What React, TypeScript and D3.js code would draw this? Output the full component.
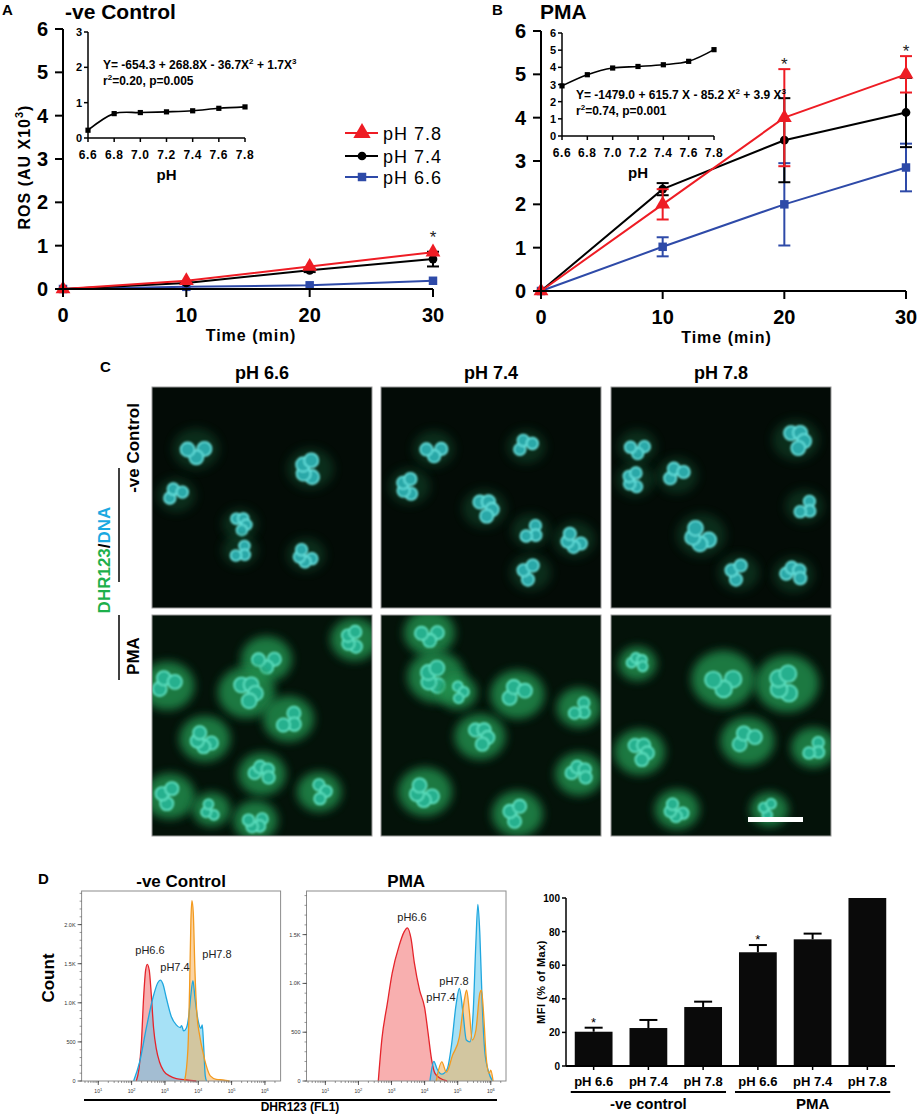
import React from 'react';
import * as d3 from 'd3';

// ---------- A / B time course ----------
const times = [0, 10, 20, 30];
const ctrl78 = [0, 0.19, 0.52, 0.85];
const ctrl78Err = [0, 0, 0, 0];
const ctrl74 = [0, 0.14, 0.43, 0.69];
const ctrl74Err = [0, 0.02, 0.04, 0.17];
const ctrl66 = [0, 0.05, 0.085, 0.19];
const ctrl66Err = [0, 0, 0, 0];
const ctrlStarTimes = [30];

const pma78 = [0, 2.0, 4.0, 5.0];
const pma78Err = [0, 0.35, 1.12, 0.42];
const pma74 = [0, 2.35, 3.48, 4.12];
const pma74Err = [0, 0.14, 0.97, 0.8];
const pma66 = [0, 1.02, 2.0, 2.85];
const pma66Err = [0, 0.22, 0.95, 0.55];
const pmaStarTimes = [20, 30];

const rosTicks = [0, 1, 2, 3, 4, 5, 6];
const timeTicks = [0, 10, 20, 30];

// insets
const insetPh = [6.6, 6.8, 7.0, 7.2, 7.4, 7.6, 7.8];
const insetCtrl = [0.22, 0.69, 0.72, 0.74, 0.77, 0.84, 0.88];
const insetPma = [2.92, 3.57, 3.96, 4.05, 4.15, 4.35, 5.03];
const insetCtrlTicks = [0, 1, 2, 3];
const insetPmaTicks = [0, 1, 2, 3, 4, 5, 6];

const legendLabels = ['pH 7.8', 'pH 7.4', 'pH 6.6'];

// ---------- C microscopy (relative cell centres, radius) ----------
const phColumns = ['pH 6.6', 'pH 7.4', 'pH 7.8'];
const cellsCtrl66 = [[0.2, 0.28, 0.085], [0.72, 0.37, 0.085], [0.11, 0.49, 0.07], [0.4, 0.62, 0.065], [0.4, 0.74, 0.065], [0.7, 0.76, 0.07]];
const cellsCtrl74 = [[0.24, 0.28, 0.075], [0.13, 0.45, 0.075], [0.66, 0.27, 0.07], [0.47, 0.55, 0.08], [0.68, 0.65, 0.07], [0.88, 0.69, 0.075], [0.68, 0.84, 0.075]];
const cellsCtrl78 = [[0.12, 0.27, 0.07], [0.11, 0.42, 0.07], [0.3, 0.4, 0.075], [0.84, 0.24, 0.085], [0.88, 0.54, 0.07], [0.41, 0.67, 0.09], [0.58, 0.84, 0.075], [0.83, 0.85, 0.075]];
const cellsPma66 = [[0.52, 0.2, 0.08], [0.92, 0.11, 0.075], [0.07, 0.32, 0.085], [0.43, 0.35, 0.09], [0.62, 0.47, 0.08], [0.24, 0.56, 0.08], [0.08, 0.82, 0.08], [0.5, 0.72, 0.075], [0.76, 0.8, 0.07], [0.47, 0.93, 0.07], [0.27, 0.88, 0.06]];
const cellsPma74 = [[0.22, 0.08, 0.08], [0.25, 0.28, 0.09], [0.62, 0.36, 0.085], [0.45, 0.55, 0.08], [0.9, 0.42, 0.07], [0.2, 0.8, 0.085], [0.62, 0.9, 0.08], [0.9, 0.72, 0.075], [0.35, 0.35, 0.06]];
const cellsPma78 = [[0.51, 0.29, 0.1], [0.8, 0.31, 0.1], [0.62, 0.57, 0.085], [0.13, 0.62, 0.08], [0.92, 0.6, 0.07], [0.3, 0.88, 0.07], [0.72, 0.88, 0.06], [0.12, 0.22, 0.06]];

// ---------- D flow histograms: [log10 intensity, count] ----------
const h1Ph66 = [[2.14, 0], [2.22, 152], [2.29, 457], [2.36, 1065], [2.42, 1414], [2.47, 1492], [2.53, 1414], [2.59, 1109], [2.66, 674], [2.74, 413], [2.84, 240], [2.96, 130], [3.14, 65], [3.34, 30], [3.64, 13], [3.94, 0]];
const h1Ph74 = [[2.06, 0], [2.24, 240], [2.44, 675], [2.64, 1065], [2.79, 1260], [2.86, 1290], [2.94, 1240], [3.04, 1065], [3.19, 826], [3.34, 718], [3.46, 683], [3.5, 709], [3.56, 640], [3.64, 674], [3.72, 848], [3.78, 1110], [3.84, 1283], [3.9, 1065], [4.0, 761], [4.08, 674], [4.12, 718], [4.16, 457], [4.21, 65], [4.25, 0]];
const h1Ph78 = [[3.59, 0], [3.69, 413], [3.74, 1196], [3.78, 2066], [3.81, 2305], [3.85, 2153], [3.9, 1413], [3.96, 848], [4.04, 587], [4.14, 370], [4.24, 196], [4.36, 65], [4.54, 22], [4.74, 13], [4.94, 0]];
const h2Ph66 = [[2.6, 0], [2.71, 434], [2.87, 787], [3.02, 1105], [3.23, 1387], [3.38, 1528], [3.48, 1570], [3.59, 1458], [3.69, 1210], [3.85, 928], [4.0, 752], [4.1, 505], [4.21, 222], [4.31, 81], [4.47, 28], [4.68, 0]];
const h2Ph74 = [[4.16, 0], [4.28, 200], [4.38, 120], [4.52, 70], [4.68, 120], [4.81, 360], [4.95, 780], [5.05, 950], [5.16, 700], [5.26, 420], [5.37, 400], [5.47, 720], [5.55, 1420], [5.61, 1810], [5.67, 1500], [5.74, 800], [5.82, 300], [5.93, 100], [6.05, 0]];
const h2Ph78 = [[4.35, 0], [4.52, 195], [4.66, 90], [4.84, 260], [5.05, 450], [5.21, 850], [5.27, 930], [5.35, 720], [5.44, 420], [5.55, 520], [5.67, 900], [5.72, 930], [5.79, 650], [5.86, 250], [5.95, 80], [6.0, 110], [6.07, 0]];
const h1CountTicks = [0, 500, 1000, 1500, 2000];
const h2CountTicks = [0, 500, 1000, 1500];
const decades = [1, 2, 3, 4, 5, 6];

// ---------- D MFI bars ----------
const mfiLabels = ['pH 6.6', 'pH 7.4', 'pH 7.8', 'pH 6.6', 'pH 7.4', 'pH 7.8'];
const mfiValues = [20.4, 22.6, 35.1, 67.7, 75.4, 100];
const mfiErr = [2.4, 4.8, 3.2, 4.3, 3.4, 0];
const mfiStars = [0, 3];
const mfiTicks = [0, 20, 40, 60, 80, 100];
const mfiGroups = ['-ve control', 'PMA'];

const SANS = "'Liberation Sans', Arial, sans-serif";
const NARROW = "'Liberation Sans Narrow', 'Arial Narrow', 'Liberation Sans', Arial, sans-serif";
const RED = '#ee1c24';
const BLUE = '#2e4aa8';
const BLACK = '#000';

const symTri = (a: number) => d3.symbol(d3.symbolTriangle, a)();
const symCircle = (a: number) => d3.symbol(d3.symbolCircle, a)();
const symSquare = (a: number) => d3.symbol(d3.symbolSquare, a)();

type Series = { vals: number[]; err: number[]; color: string; sym: string };

function TimeCourse({ x0, x1, y0, y1, series, starTimes }: { x0: number; x1: number; y0: number; y1: number; series: Series[]; starTimes: number[] }) {
  const x = d3.scaleLinear().domain([0, 30]).range([x0, x1]);
  const y = d3.scaleLinear().domain([0, 6]).range([y1, y0]);
  const line = d3.line<number>().x((_, i) => x(times[i])).y(v => y(v));
  return (
    <g>
      {series.map((s, k) => (
        <g key={k}>
          {s.vals.map((v, i) => s.err[i] > 0 ? (
            <g key={i} stroke={s.color} strokeWidth={2}>
              <line x1={x(times[i])} x2={x(times[i])} y1={y(v - s.err[i])} y2={y(v + s.err[i])} />
              <line x1={x(times[i]) - 6} x2={x(times[i]) + 6} y1={y(v - s.err[i])} y2={y(v - s.err[i])} />
              <line x1={x(times[i]) - 6} x2={x(times[i]) + 6} y1={y(v + s.err[i])} y2={y(v + s.err[i])} />
            </g>
          ) : null)}
          <path d={line(s.vals) || ''} fill="none" stroke={s.color} strokeWidth={2} />
          {s.vals.map((v, i) => (
            <path key={i} d={s.sym} fill={s.color} transform={`translate(${x(times[i])},${y(v)})`} />
          ))}
        </g>
      ))}
      {starTimes.map(t => {
        const i = times.indexOf(t);
        const top = Math.min(...series.map(s => Math.min(y(s.vals[i]) - 10, y(s.vals[i] + s.err[i]))));
        return <text key={t} x={x(t)} y={top + 1} textAnchor="middle" fontFamily={SANS} fontSize={17} fill="#222">*</text>;
      })}
      {/* y axis */}
      <line x1={x0} x2={x0} y1={y(0)} y2={y(6)} stroke="#000" strokeWidth={2} />
      {rosTicks.map(t => (
        <g key={t}>
          <line x1={x0 - 8} x2={x0} y1={y(t)} y2={y(t)} stroke="#000" strokeWidth={2} />
          <text x={x0 - 15} y={y(t) + 7} textAnchor="end" fontFamily={NARROW} fontWeight="bold" fontSize={20}>{t}</text>
        </g>
      ))}
      {/* x axis */}
      <line x1={x0} x2={x1} y1={y(0)} y2={y(0)} stroke="#000" strokeWidth={2} />
      {timeTicks.map(t => (
        <g key={t}>
          <line x1={x(t)} x2={x(t)} y1={y(0)} y2={y(0) + 8} stroke="#000" strokeWidth={2} />
          <text x={x(t)} y={y(0) + 33} textAnchor="middle" fontFamily={NARROW} fontWeight="bold" fontSize={20}>{t}</text>
        </g>
      ))}
      <text x={(x0 + x1) / 2 + 3} y={y(0) + 52} textAnchor="middle" fontFamily={NARROW} fontWeight="bold" fontSize={16} letterSpacing={1}>Time (min)</text>
    </g>
  );
}

function Inset({ x0, x1, y0, y1, vals, ticks, eq1, eq2, eqX, eqY }: any) {
  const x = d3.scaleLinear().domain([6.6, 7.8]).range([x0, x1]);
  const y = d3.scaleLinear().domain([0, ticks[ticks.length - 1]]).range([y1, y0]);
  const line = d3.line<number>().x((_, i) => x(insetPh[i])).y(v => y(v)).curve(d3.curveCatmullRom.alpha(0.5));
  return (
    <g>
      <line x1={x0} x2={x0} y1={y1} y2={y0} stroke="#000" strokeWidth={1.5} />
      <line x1={x0} x2={x1} y1={y1} y2={y1} stroke="#000" strokeWidth={1.5} />
      {ticks.map((t: number) => (
        <g key={t}>
          <line x1={x0 - 4} x2={x0} y1={y(t)} y2={y(t)} stroke="#000" strokeWidth={1.5} />
          <text x={x0 - 6} y={y(t) + 4} textAnchor="end" fontFamily={NARROW} fontWeight="bold" fontSize={11}>{t}</text>
        </g>
      ))}
      {insetPh.map(p => (
        <g key={p}>
          <line x1={x(p)} x2={x(p)} y1={y1} y2={y1 + 4} stroke="#000" strokeWidth={1.5} />
          <text x={x(p)} y={y1 + 21} textAnchor="middle" fontFamily={NARROW} fontWeight="bold" fontSize={12} letterSpacing={0.6}>{p.toFixed(1)}</text>
        </g>
      ))}
      <text x={(x0 + x1) / 2} y={y1 + 42} textAnchor="middle" fontFamily={SANS} fontWeight="bold" fontSize={15}>pH</text>
      <path d={line(vals) || ''} fill="none" stroke="#000" strokeWidth={1.6} />
      {vals.map((v: number, i: number) => (
        <rect key={i} x={x(insetPh[i]) - 2.6} y={y(v) - 2.6} width={5.2} height={5.2} fill="#000" />
      ))}
      <text x={eqX} y={eqY} fontFamily={NARROW} fontWeight="bold" fontSize={12}>{eq1}</text>
      <text x={eqX} y={eqY + 16} fontFamily={NARROW} fontWeight="bold" fontSize={12}>{eq2}</text>
    </g>
  );
}

function Cell({ cx, cy, r, pma, k }: { cx: number; cy: number; r: number; pma: boolean; k: number }) {
  const rot = k * 1.37;
  const n = 3 + (k % 2);
  const lobes = d3.range(n).map(j => {
    const a = rot + j * (4.6 / n);
    return [cx + Math.cos(a) * r * 0.45, cy + Math.sin(a) * r * 0.45];
  });
  return (
    <g>
      <ellipse cx={cx} cy={cy} rx={r * (pma ? 1.45 : 1.25)} ry={r * (pma ? 1.3 : 1.1)} fill={pma ? '#21934f' : '#15603a'} opacity={pma ? 0.8 : 0.4} filter="url(#blurBig)" />
      <g filter="url(#blurSmall)">
        {lobes.map((l, j) => (
          <circle key={j} cx={l[0]} cy={l[1]} r={r * 0.38} fill={pma ? '#27b08e' : '#2aa8a8'} stroke={pma ? '#62e6c6' : '#6ae6e2'} strokeWidth={1.6} />
        ))}
      </g>
    </g>
  );
}

function Micro({ x, y, w, h, cells, pma }: { x: number; y: number; w: number; h: number; cells: number[][]; pma: boolean }) {
  const sx = d3.scaleLinear().domain([0, 1]).range([x, x + w]);
  const sy = d3.scaleLinear().domain([0, 1]).range([y, y + h]);
  const id = `clip${Math.round(x)}_${Math.round(y)}`;
  return (
    <g>
      <clipPath id={id}><rect x={x} y={y} width={w} height={h} /></clipPath>
      <rect x={x} y={y} width={w} height={h} fill={pma ? '#041209' : '#030b06'} />
      <g clipPath={`url(#${id})`}>
        {cells.map((c, k) => <Cell key={k} k={k} cx={sx(c[0])} cy={sy(c[1])} r={c[2] * w} pma={pma} />)}
      </g>
      <rect x={x} y={y} width={w} height={h} fill="none" stroke="#9a9a9a" strokeWidth={1} />
    </g>
  );
}

function Histogram({ bx0, bx1, by0, by1, logMin, logMax, yMax, curves, countTicks, labels, title }: any) {
  const x = d3.scaleLog().domain([Math.pow(10, logMin), Math.pow(10, logMax)]).range([bx0, bx1]);
  const y = d3.scaleLinear().domain([0, yMax]).range([by1, by0]);
  const area = d3.area<number[]>().x(d => x(Math.pow(10, d[0]))).y0(y(0)).y1(d => y(d[1])).curve(d3.curveMonotoneX);
  const line = d3.line<number[]>().x(d => x(Math.pow(10, d[0]))).y(d => y(d[1])).curve(d3.curveMonotoneX);
  const minorX: number[] = [];
  for (let e = 0; e <= 6; e++) for (let m = 1; m <= 9; m++) {
    const v = m * Math.pow(10, e);
    if (Math.log10(v) > logMin && Math.log10(v) < logMax) minorX.push(v);
  }
  const minorY = d3.range(0, yMax, 100);
  const fmt = (t: number) => t === 0 ? '0' : t < 1000 ? String(t) : `${(t / 1000).toFixed(1)}K`;
  return (
    <g>
      <text x={(bx0 + bx1) / 2} y={by0 - 4} textAnchor="middle" fontFamily={SANS} fontWeight="bold" fontSize={17}>{title}</text>
      {curves.map((c: any, k: number) => (
        <path key={k} d={area(c.pts) || ''} fill={c.fill} fillOpacity={0.55} />
      ))}
      {curves.map((c: any, k: number) => (
        <path key={k} d={line(c.pts) || ''} fill="none" stroke={c.stroke} strokeWidth={1.3} />
      ))}
      <rect x={bx0} y={by0} width={bx1 - bx0} height={by1 - by0} fill="none" stroke="#8c8c8c" strokeWidth={1} />
      {minorY.map(t => <line key={t} x1={bx0 - 2} x2={bx0} y1={y(t)} y2={y(t)} stroke="#555" strokeWidth={0.6} />)}
      {countTicks.map((t: number) => (
        <g key={t}>
          <line x1={bx0 - 4} x2={bx0} y1={y(t)} y2={y(t)} stroke="#333" strokeWidth={0.8} />
          <text x={bx0 - 6} y={y(t) + 2} textAnchor="end" fontFamily={SANS} fontSize={5.5} fill="#333">{fmt(t)}</text>
        </g>
      ))}
      {minorX.map(v => <line key={v} x1={x(v)} x2={x(v)} y1={by1} y2={by1 + 2} stroke="#555" strokeWidth={0.6} />)}
      {decades.map(d => (
        <g key={d}>
          <line x1={x(Math.pow(10, d))} x2={x(Math.pow(10, d))} y1={by1} y2={by1 + 4} stroke="#333" strokeWidth={0.8} />
          <text x={x(Math.pow(10, d))} y={by1 + 12} textAnchor="middle" fontFamily={SANS} fontSize={5} fill="#333">10<tspan dy={-2} fontSize={4}>{d}</tspan></text>
        </g>
      ))}
      {labels.map((l: any, k: number) => (
        <text key={k} x={l[1]} y={l[2]} textAnchor="middle" fontFamily={SANS} fontSize={11} fill="#222">{l[0]}</text>
      ))}
    </g>
  );
}

function MfiBars() {
  const x = d3.scaleBand<number>().domain(d3.range(mfiValues.length)).range([566, 895]).paddingInner(0.31).paddingOuter(0.16);
  const y = d3.scaleLinear().domain([0, 100]).range([1066, 898]);
  const bw = x.bandwidth();
  return (
    <g>
      {mfiValues.map((v, i) => (
        <g key={i}>
          <rect x={x(i)} y={y(v)} width={bw} height={y(0) - y(v)} fill="#0a0a0a" />
          {mfiErr[i] > 0 && (
            <g stroke="#000" strokeWidth={2}>
              <line x1={x(i)! + bw / 2} x2={x(i)! + bw / 2} y1={y(v)} y2={y(v + mfiErr[i])} />
              <line x1={x(i)! + bw / 2 - 9} x2={x(i)! + bw / 2 + 9} y1={y(v + mfiErr[i])} y2={y(v + mfiErr[i])} />
            </g>
          )}
          <line x1={x(i)! + bw / 2} x2={x(i)! + bw / 2} y1={y(0)} y2={y(0) + 4} stroke="#000" strokeWidth={1.5} />
          <text x={x(i)! + bw / 2} y={y(0) + 20} textAnchor="middle" fontFamily={NARROW} fontWeight="bold" fontSize={13}>{mfiLabels[i]}</text>
        </g>
      ))}
      {mfiStars.map(i => (
        <text key={i} x={x(i)! + bw / 2} y={y(mfiValues[i] + mfiErr[i]) - 1} textAnchor="middle" fontFamily={SANS} fontSize={13}>*</text>
      ))}
      <line x1={566} x2={566} y1={y(0)} y2={y(100)} stroke="#000" strokeWidth={1.5} />
      <line x1={566} x2={895} y1={y(0)} y2={y(0)} stroke="#000" strokeWidth={2} />
      {mfiTicks.map(t => (
        <g key={t}>
          <line x1={562} x2={566} y1={y(t)} y2={y(t)} stroke="#000" strokeWidth={1.5} />
          <text x={560} y={y(t) + 4} textAnchor="end" fontFamily={NARROW} fontWeight="bold" fontSize={10}>{t}</text>
        </g>
      ))}
      <text transform={`translate(545,${(y(0) + y(100)) / 2}) rotate(-90)`} textAnchor="middle" fontFamily={NARROW} fontWeight="bold" fontSize={11} letterSpacing={0.5}>MFI (% of Max)</text>
      {mfiGroups.map((g, k) => {
        const a = x(k * 3)! - 4;
        const b = x(k * 3 + 2)! + bw + 4;
        return (
          <g key={g}>
            <line x1={a} x2={b} y1={1092} y2={1092} stroke="#000" strokeWidth={2} />
            <text x={(a + b) / 2} y={1109} textAnchor="middle" fontFamily={NARROW} fontWeight="bold" fontSize={15}>{g}</text>
          </g>
        );
      })}
    </g>
  );
}

export default function App() {
  const ctrlSeries: Series[] = [
    { vals: ctrl66, err: ctrl66Err, color: BLUE, sym: symSquare(72) || '' },
    { vals: ctrl74, err: ctrl74Err, color: BLACK, sym: symCircle(60) || '' },
    { vals: ctrl78, err: ctrl78Err, color: RED, sym: symTri(95) || '' },
  ];
  const pmaSeries: Series[] = [
    { vals: pma66, err: pma66Err, color: BLUE, sym: symSquare(72) || '' },
    { vals: pma74, err: pma74Err, color: BLACK, sym: symCircle(60) || '' },
    { vals: pma78, err: pma78Err, color: RED, sym: symTri(95) || '' },
  ];
  const legendSyms = [symTri(130), symCircle(60), symSquare(72)];
  const legendColors = [RED, BLACK, BLUE];
  const colX = [152, 381, 611];
  const rowY = [387, 615];
  const pw = 220, ph = 221;
  const grid = [[cellsCtrl66, cellsCtrl74, cellsCtrl78], [cellsPma66, cellsPma74, cellsPma78]];
  const sup = (s: string) => <tspan dy={-5} fontSize={8}>{s}</tspan>;
  const down = (s: string) => <tspan dy={5}>{s}</tspan>;

  return (
    <div style={{ position: 'absolute', left: 0, top: 0, background: '#fff' }}>
      <svg width={917} height={1115} viewBox="0 0 917 1115">
        <defs>
          <filter id="blurBig" x="-50%" y="-50%" width="200%" height="200%"><feGaussianBlur stdDeviation={5} /></filter>
          <filter id="blurSmall" x="-20%" y="-20%" width="140%" height="140%"><feGaussianBlur stdDeviation={0.9} /></filter>
        </defs>
        <rect width={917} height={1115} fill="#fff" />

        {/* Panel A */}
        <text x={2} y={15} fontFamily={SANS} fontWeight="bold" fontSize={15}>A</text>
        <text x={65} y={19} fontFamily={SANS} fontWeight="bold" fontSize={21}>-ve Control</text>
        <text transform="translate(30,167) rotate(-90)" textAnchor="middle" fontFamily={SANS} fontWeight="bold" fontSize={16} letterSpacing={1}>ROS (AU X10<tspan dy={-7} fontSize={11}>3</tspan><tspan dy={7}>)</tspan></text>
        <TimeCourse x0={63} x1={433} y0={29} y1={289} series={ctrlSeries} starTimes={ctrlStarTimes} />
        <Inset x0={88} x1={245} y0={32} y1={138} vals={insetCtrl} ticks={insetCtrlTicks} eqX={103} eqY={69}
          eq1={<>Y= -654.3 + 268.8X - 36.7X{sup('2')}{down(' + 1.7X')}{sup('3')}</>}
          eq2={<>r{sup('2')}{down('=0.20, p=0.005')}</>} />
        {legendLabels.map((l, i) => (
          <g key={l} transform={`translate(0,${133 + [0, 23, 44][i]})`}>
            <line x1={345} x2={378} y1={0} y2={0} stroke={legendColors[i]} strokeWidth={2} />
            <path d={legendSyms[i] || ''} fill={legendColors[i]} transform="translate(362,0)" />
            <text x={383} y={6.5} fontFamily={SANS} fontSize={18} letterSpacing={1}>{l}</text>
          </g>
        ))}

        {/* Panel B */}
        <text x={492} y={15} fontFamily={SANS} fontWeight="bold" fontSize={15}>B</text>
        <text x={540} y={19} fontFamily={SANS} fontWeight="bold" fontSize={21}>PMA</text>
        <TimeCourse x0={541} x1={906} y0={31} y1={291} series={pmaSeries} starTimes={pmaStarTimes} />
        <Inset x0={562} x1={714} y0={33} y1={136} vals={insetPma} ticks={insetPmaTicks} eqX={576} eqY={99}
          eq1={<>Y= -1479.0 + 615.7 X - 85.2 X{sup('2')}{down(' + 3.9 X')}{sup('3')}</>}
          eq2={<>r{sup('2')}{down('=0.74, p=0.001')}</>} />

        {/* Panel C */}
        <text x={100} y={372} fontFamily={SANS} fontWeight="bold" fontSize={15}>C</text>
        {phColumns.map((c, i) => (
          <text key={c} x={colX[i] + pw / 2} y={379} textAnchor="middle" fontFamily={SANS} fontWeight="bold" fontSize={18}>{c}</text>
        ))}
        {grid.map((row, r) => row.map((cells, c) => (
          <Micro key={`${r}${c}`} x={colX[c]} y={rowY[r]} w={pw} h={ph} cells={cells} pma={r === 1} />
        )))}
        <rect x={748} y={817} width={55} height={5} fill="#fff" />
        <text transform="translate(110,560) rotate(-90)" textAnchor="middle" fontFamily={SANS} fontWeight="bold" fontSize={17}>
          <tspan fill="#1db04b">DHR123</tspan><tspan fill="#000">/</tspan><tspan fill="#1ba9e1">DNA</tspan>
        </text>
        <text transform="translate(139,448) rotate(-90)" textAnchor="middle" fontFamily={SANS} fontWeight="bold" fontSize={17}>-ve Control</text>
        <text transform="translate(139,656) rotate(-90)" textAnchor="middle" fontFamily={SANS} fontWeight="bold" fontSize={17}>PMA</text>
        <line x1={119} x2={119} y1={468} y2={582} stroke="#000" strokeWidth={1.5} />
        <line x1={119} x2={119} y1={615} y2={680} stroke="#000" strokeWidth={1.5} />

        {/* Panel D */}
        <text x={38} y={884} fontFamily={SANS} fontWeight="bold" fontSize={15}>D</text>
        <Histogram bx0={81.6} bx1={280.6} by0={891} by1={1081} logMin={0.5} logMax={6.47} yMax={2430}
          countTicks={h1CountTicks} title="-ve Control"
          curves={[
            { pts: h1Ph66, fill: '#f26d6d', stroke: '#e5242b' },
            { pts: h1Ph74, fill: '#5cc8ef', stroke: '#1fa7df' },
            { pts: h1Ph78, fill: '#f6b15a', stroke: '#f39a1e' },
          ]}
          labels={[['pH6.6', 150, 954], ['pH7.4', 175, 971], ['pH7.8', 217, 958]]} />
        <Histogram bx0={306.5} bx1={506} by0={891} by1={1081} logMin={0.43} logMax={6.46} yMax={1947}
          countTicks={h2CountTicks} title="PMA"
          curves={[
            { pts: h2Ph66, fill: '#f26d6d', stroke: '#e5242b' },
            { pts: h2Ph74, fill: '#5cc8ef', stroke: '#1fa7df' },
            { pts: h2Ph78, fill: '#f6b15a', stroke: '#f39a1e' },
          ]}
          labels={[['pH6.6', 412, 921], ['pH7.8', 454, 985], ['pH7.4', 441, 1001]]} />
        <text transform="translate(54,978) rotate(-90)" textAnchor="middle" fontFamily={SANS} fontWeight="bold" fontSize={17}>Count</text>
        <line x1={84} x2={497} y1={1100} y2={1100} stroke="#000" strokeWidth={2} />
        <text x={300} y={1111} textAnchor="middle" fontFamily={NARROW} fontWeight="bold" fontSize={12}>DHR123 (FL1)</text>

        <MfiBars />
      </svg>
    </div>
  );
}
